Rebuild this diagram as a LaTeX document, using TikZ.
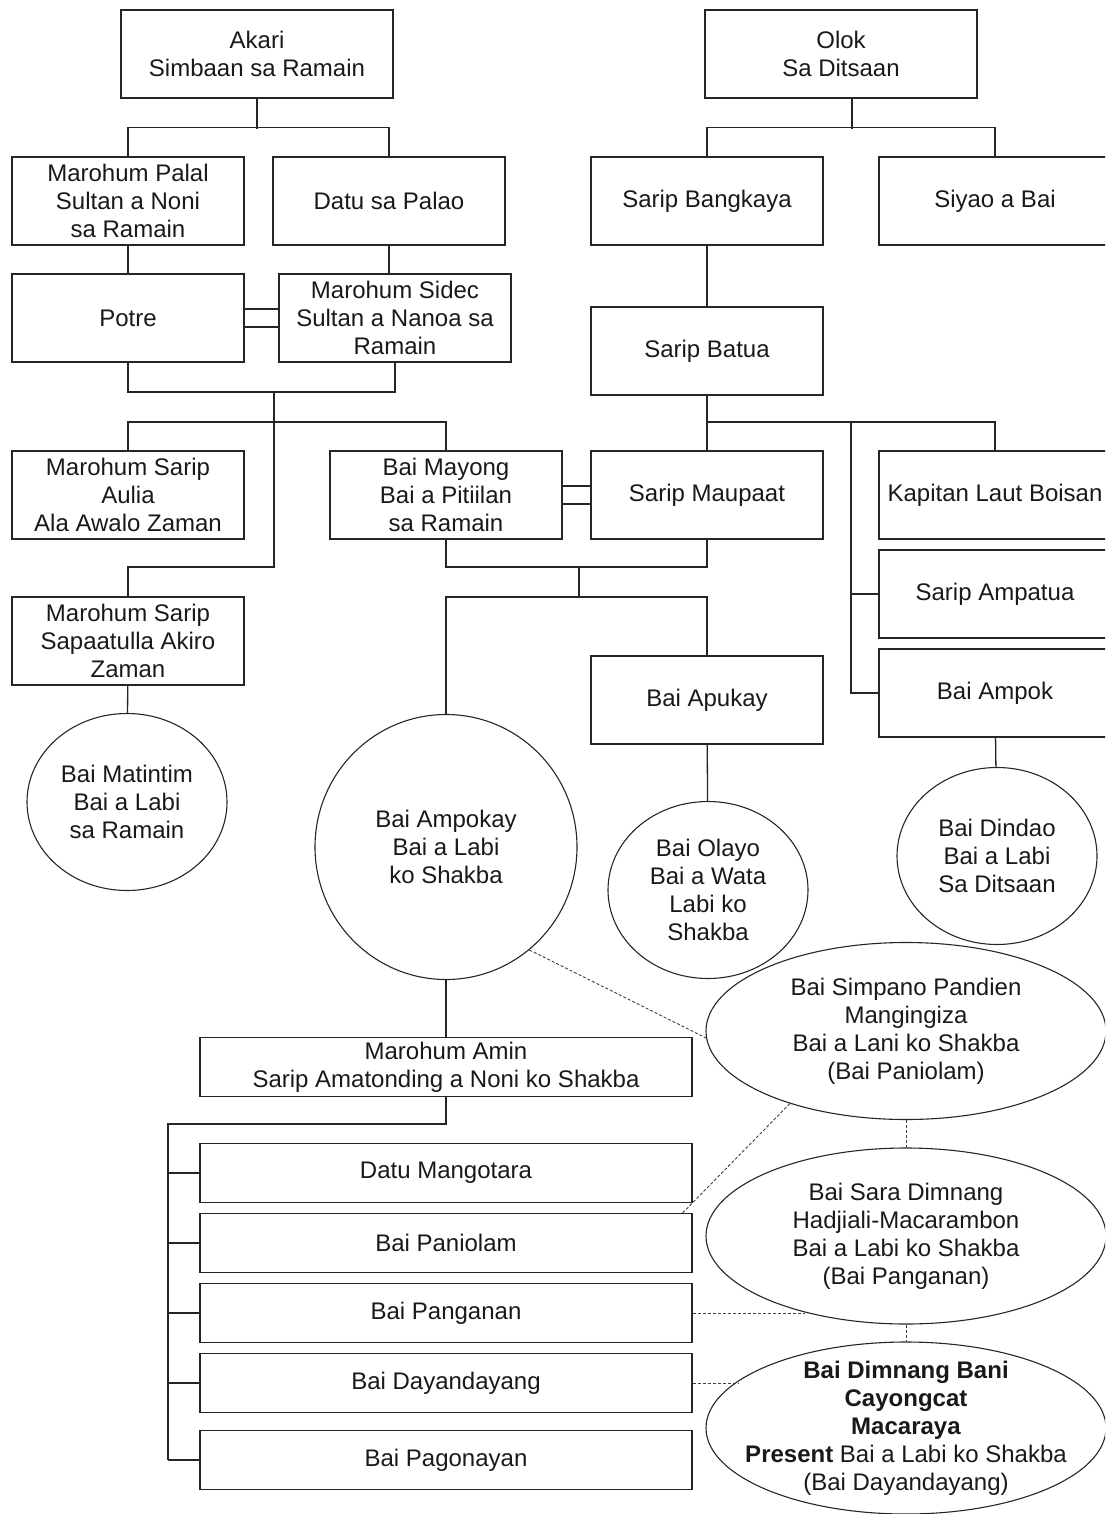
\documentclass[tikz,border=0pt]{standalone}
\usepackage{fontspec}
\setmainfont{Liberation Sans}
\usepackage{tikz}
\usetikzlibrary{shapes.geometric}

\begin{document}
\begin{tikzpicture}[x=1pt,y=-1pt]
	\tikzstyle{every node}=[font=\fontsize{24}{28}\selectfont,align=center,inner sep=1pt,text=black!90]
	\tikzstyle{box}=[draw=black!85,rectangle,line width=1.3pt,minimum width=232pt,minimum height=88pt]
	\tikzstyle{oval}=[draw=black!85,ellipse,line width=1.1pt,inner sep=0pt,minimum width=200pt,minimum height=177pt]
	\tikzstyle{link}=[draw=black!85,line width=1.3pt]
	\tikzstyle{rel}=[draw=black!75,line width=0.9pt,dash pattern=on 3pt off 2pt]
	\useasboundingbox (0,0) rectangle (1105,1514);
	\clip (0,0) rectangle (1105,1514);

	% Ramain side
	\node[box,minimum width=272pt](akari) at (257,54) {Akari\\Simbaan sa Ramain};
	\node[box](palal) at (128,201) {Marohum Palal\\Sultan a Noni\\sa Ramain};
	\node[box](datu) at (389,201) {Datu sa Palao};
	\node[box](potre) at (128,318) {Potre};
	\node[box](sidec) at (395,318) {Marohum Sidec\\Sultan a Nanoa sa\\Ramain};
	\node[box](aulia) at (128,495) {Marohum Sarip\\Aulia\\Ala Awalo Zaman};
	\node[box](mayong) at (446,495) {Bai Mayong\\Bai a Pitiilan\\sa Ramain};
	\node[box](sapaatulla) at (128,641) {Marohum Sarip\\Sapaatulla Akiro\\Zaman};
	\node[oval](matintim) at (127,802) {Bai Matintim\\Bai a Labi\\sa Ramain};

	% Ditsaan side
	\node[box,minimum width=272pt](olok) at (841,54) {Olok\\Sa Ditsaan};
	\node[box](bangkaya) at (707,201) {Sarip Bangkaya};
	\node[box](siyao) at (995,201) {Siyao a Bai};
	\node[box](batua) at (707,351) {Sarip Batua};
	\node[box](maupaat) at (707,495) {Sarip Maupaat};
	\node[box](kapitan) at (995,495) {Kapitan Laut Boisan};
	\node[box](ampatua) at (995,594) {Sarip Ampatua};
	\node[box](ampok) at (995,693) {Bai Ampok};
	\node[box](apukay) at (707,700) {Bai Apukay};
	\node[oval](dindao) at (997,856) {Bai Dindao\\Bai a Labi\\Sa Ditsaan};
	\node[oval](olayo) at (708,890) {Bai Olayo\\Bai a Wata\\Labi ko\\Shakba};
	\node[oval,minimum width=262pt,minimum height=265pt](ampokay) at (446,847) {Bai Ampokay\\Bai a Labi\\ko Shakba};

	% Shakba
	\node[box,minimum width=492pt,minimum height=59pt](amin) at (446,1067) {Marohum Amin\\Sarip Amatonding a Noni ko Shakba};
	\node[box,minimum width=492pt,minimum height=59pt](mangotara) at (446,1173) {Datu Mangotara};
	\node[box,minimum width=492pt,minimum height=59pt](paniolam) at (446,1243) {Bai Paniolam};
	\node[box,minimum width=492pt,minimum height=59pt](panganan) at (446,1313) {Bai Panganan};
	\node[box,minimum width=492pt,minimum height=59pt](dayandayang) at (446,1383) {Bai Dayandayang};
	\node[box,minimum width=492pt,minimum height=59pt](pagonayan) at (446,1460) {Bai Pagonayan};
	\node[oval,minimum width=400pt](simpano) at (906,1031) {Bai Simpano Pandien\\Mangingiza\\Bai a Lani ko Shakba\\(Bai Paniolam)};
	\node[oval,minimum width=400pt,minimum height=176pt](sara) at (906,1236) {Bai Sara Dimnang\\Hadjiali-Macarambon\\Bai a Labi ko Shakba\\(Bai Panganan)};
	\node[oval,minimum width=400pt,minimum height=172pt,
		label={center:{\textbf{Bai Dimnang Bani}\\\textbf{Cayongcat}\\\textbf{Macaraya}\\\textbf{Present} Bai a Labi ko Shakba\\(Bai Dayandayang)}}](dimnang) at (906,1428) {};

	\coordinate (j1) at (274,392);
	\coordinate (j2) at (274,567);
	\coordinate (j3) at (274,422);
	\coordinate (k1) at (707,422);
	\coordinate (k2) at (851,422);
	\coordinate (m1) at (579,567);
	\coordinate (m2) at (579,597);
	\coordinate (c1) at (168,1124);

	\draw[link](akari.south) -- ++(0,30);
	\draw[link](palal.north) -- ++(0,-29) -| (datu.north);
	\draw[link]([xshift=11pt]olok.south) -- ++(0,30);
	\draw[link](bangkaya.north) -- ++(0,-29) -| (siyao.north);
	\draw[link](palal) -- (potre);
	\draw[link](datu.south) -- (datu.south |- sidec.north);
	\draw[link](bangkaya) -- (batua);
	%marriages
	\draw[link]([yshift=9pt]potre.east) -- ([yshift=9pt]potre.east -| sidec.west);
	\draw[link]([yshift=-9pt]potre.east) -- ([yshift=-9pt]potre.east -| sidec.west);
	\draw[link]([yshift=9pt]mayong.east) -- ([yshift=9pt]mayong.east -| maupaat.west);
	\draw[link]([yshift=-9pt]mayong.east) -- ([yshift=-9pt]mayong.east -| maupaat.west);

	\draw[link](potre.south) |- (j1) -| (sidec.south);
	\draw[link](j1) -- (j2) -| (sapaatulla.north);
	\draw[link](aulia.north) |- (j3) -| (mayong.north);
	\draw[link](batua) -- (maupaat);
	\draw[link](k1) -| (kapitan.north);
	\draw[link](k2) |- (ampatua.west);
	\draw[link](k2) |- (ampok.west);
	\draw[link](mayong.south) |- (m1) -| (maupaat.south);
	\draw[link](m1) -- (m2);
	\draw[link](ampokay.north) |- (m2) -| (apukay.north);
	\draw[link](sapaatulla) -- (matintim);
	\draw[link](apukay) -- (olayo);
	\draw[link](ampok) -- (dindao);
	\draw[link](ampokay) -- (amin);
	\draw[link](amin.south) |- (c1) -- (c1 |- pagonayan.west);
	\foreach \n in {mangotara,paniolam,panganan,dayandayang,pagonayan}
		\draw[link](c1 |- \n.west) -- (\n.west);

	\draw[rel](ampokay.-51) -- (simpano.182);
	\draw[rel]([xshift=-10pt]paniolam.north east) -- (simpano.212);
	\draw[rel](simpano) -- (sara);
	\draw[rel](panganan.east) -- (panganan.east -| sara.217);
	\draw[rel](sara) -- (dimnang);
	\draw[rel](dayandayang.east) -- (dayandayang.east -| dimnang.164);
\end{tikzpicture}
\end{document}
